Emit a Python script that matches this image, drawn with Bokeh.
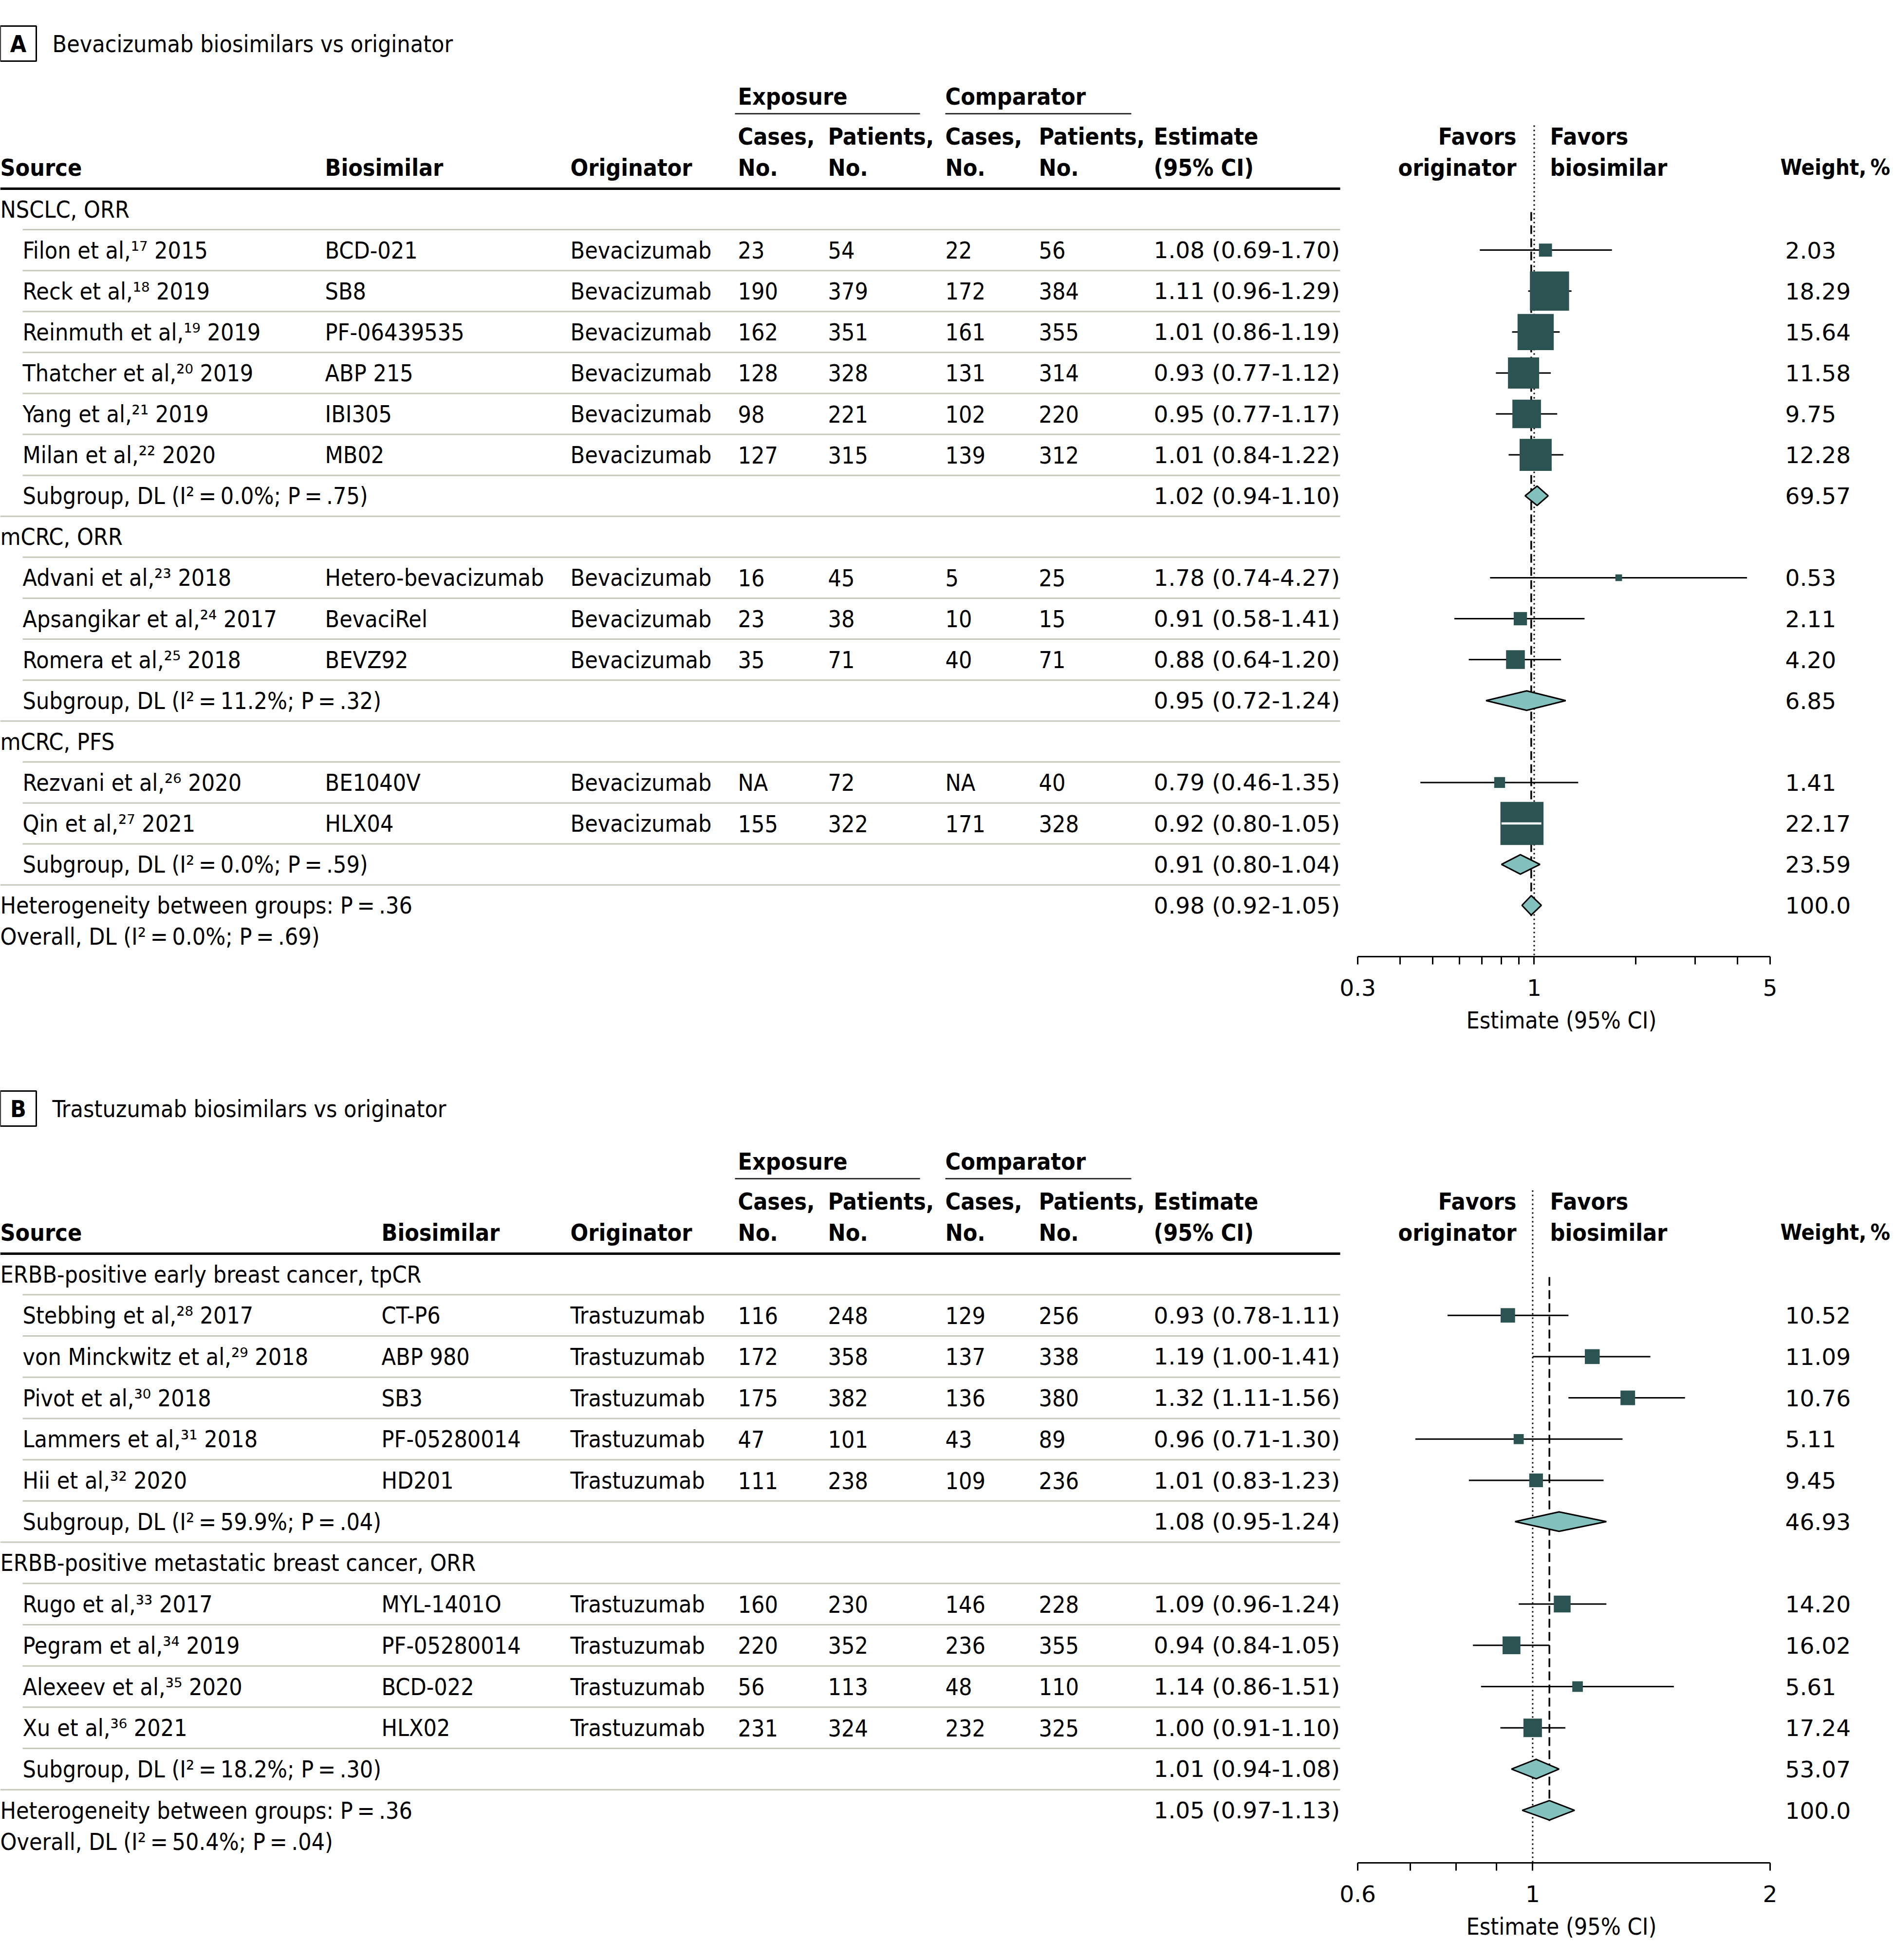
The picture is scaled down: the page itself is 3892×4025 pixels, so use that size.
import math
from bokeh.plotting import figure
from bokeh.models import Range1d, LogScale, LogAxis, FixedTicker, CustomJSTickFormatter, Title
from bokeh.layouts import column
from bokeh.embed import file_html
from bokeh.resources import INLINE
from bokeh.core.properties import value

# ---------------- data: panel A ----------------
A_GROUPS = ["NSCLC, ORR", "mCRC, ORR", "mCRC, PFS"]
A_STUDY_GROUP = [0, 0, 0, 0, 0, 0, 1, 1, 1, 2, 2]
A_SOURCE = ["Filon et al,¹⁷ 2015", "Reck et al,¹⁸ 2019", "Reinmuth et al,¹⁹ 2019",
            "Thatcher et al,²⁰ 2019", "Yang et al,²¹ 2019", "Milan et al,²² 2020",
            "Advani et al,²³ 2018", "Apsangikar et al,²⁴ 2017", "Romera et al,²⁵ 2018",
            "Rezvani et al,²⁶ 2020", "Qin et al,²⁷ 2021"]
A_BIOSIMILAR = ["BCD-021", "SB8", "PF-06439535", "ABP 215", "IBI305", "MB02",
                "Hetero-bevacizumab", "BevaciRel", "BEVZ92", "BE1040V", "HLX04"]
A_ORIGINATOR = ["Bevacizumab"] * 11
A_EXP_CASES = [23, 190, 162, 128, 98, 127, 16, 23, 35, None, 155]
A_EXP_PATIENTS = [54, 379, 351, 328, 221, 315, 45, 38, 71, 72, 322]
A_CMP_CASES = [22, 172, 161, 131, 102, 139, 5, 10, 40, None, 171]
A_CMP_PATIENTS = [56, 384, 355, 314, 220, 312, 25, 15, 71, 40, 328]
A_EST = [1.08, 1.11, 1.01, 0.93, 0.95, 1.01, 1.78, 0.91, 0.88, 0.79, 0.92]
A_LO = [0.69, 0.96, 0.86, 0.77, 0.77, 0.84, 0.74, 0.58, 0.64, 0.46, 0.80]
A_HI = [1.70, 1.29, 1.19, 1.12, 1.17, 1.22, 4.27, 1.41, 1.20, 1.35, 1.05]
A_WEIGHT = [2.03, 18.29, 15.64, 11.58, 9.75, 12.28, 0.53, 2.11, 4.20, 1.41, 22.17]
A_SUB_I2 = ["0.0%", "11.2%", "0.0%"]
A_SUB_P = [".75", ".32", ".59"]
A_SUB_EST = [1.02, 0.95, 0.91]
A_SUB_LO = [0.94, 0.72, 0.80]
A_SUB_HI = [1.10, 1.24, 1.04]
A_SUB_WEIGHT = [69.57, 6.85, 23.59]
A_HET_P = ".36"
A_ALL_I2 = "0.0%"
A_ALL_P = ".69"
A_ALL_CI = [0.98, 0.92, 1.05]
A_ALL_WEIGHT = 100.0
A_TICKS = [0.3, 1, 5]
A_MINOR = [0.4, 0.5, 0.6, 0.7, 0.8, 0.9, 2, 3, 4]

# ---------------- data: panel B ----------------
B_GROUPS = ["ERBB-positive early breast cancer, tpCR", "ERBB-positive metastatic breast cancer, ORR"]
B_STUDY_GROUP = [0, 0, 0, 0, 0, 1, 1, 1, 1]
B_SOURCE = ["Stebbing et al,²⁸ 2017", "von Minckwitz et al,²⁹ 2018", "Pivot et al,³⁰ 2018",
            "Lammers et al,³¹ 2018", "Hii et al,³² 2020", "Rugo et al,³³ 2017",
            "Pegram et al,³⁴ 2019", "Alexeev et al,³⁵ 2020", "Xu et al,³⁶ 2021"]
B_BIOSIMILAR = ["CT-P6", "ABP 980", "SB3", "PF-05280014", "HD201", "MYL-1401O",
                "PF-05280014", "BCD-022", "HLX02"]
B_ORIGINATOR = ["Trastuzumab"] * 9
B_EXP_CASES = [116, 172, 175, 47, 111, 160, 220, 56, 231]
B_EXP_PATIENTS = [248, 358, 382, 101, 238, 230, 352, 113, 324]
B_CMP_CASES = [129, 137, 136, 43, 109, 146, 236, 48, 232]
B_CMP_PATIENTS = [256, 338, 380, 89, 236, 228, 355, 110, 325]
B_EST = [0.93, 1.19, 1.32, 0.96, 1.01, 1.09, 0.94, 1.14, 1.00]
B_LO = [0.78, 1.00, 1.11, 0.71, 0.83, 0.96, 0.84, 0.86, 0.91]
B_HI = [1.11, 1.41, 1.56, 1.30, 1.23, 1.24, 1.05, 1.51, 1.10]
B_WEIGHT = [10.52, 11.09, 10.76, 5.11, 9.45, 14.20, 16.02, 5.61, 17.24]
B_SUB_I2 = ["59.9%", "18.2%"]
B_SUB_P = [".04", ".30"]
B_SUB_EST = [1.08, 1.01]
B_SUB_LO = [0.95, 0.94]
B_SUB_HI = [1.24, 1.08]
B_SUB_WEIGHT = [46.93, 53.07]
B_HET_P = ".36"
B_ALL_I2 = "50.4%"
B_ALL_P = ".04"
B_ALL_CI = [1.05, 0.97, 1.13]
B_ALL_WEIGHT = 100.0
B_TICKS = [0.6, 1, 2]
B_MINOR = [0.7, 0.8, 0.9]

# ---------------- style / layout ----------------
FONT = "DejaVu Sans Condensed"
FONT_NUM = "DejaVu Sans"
FS = "48px"
FS_NUM = "47px"
BOX = "#2b5352"
DIA = "#83c1bf"
SEP = "#c5c9bb"
TOTAL_W = 3892
AX0, AX1 = 2788.0, 3635.0   # axis extent
AXIS_TITLE_LEFT = 3011
COLX = dict(src=0, ind=46, orig=1171, ec=1515, ep=1700, cc=1941, cp=2133, est=2369,
            tab_end=2752, fav_r=3114, fav_l=3183, wt=3666, wt_head=3656)


def fmt_ci(e, l, h):
    return f"{e:.2f} ({l:.2f}-{h:.2f})"


def fmt_w(w):
    return f"{w:.1f}" if w >= 100 else f"{w:.2f}"


def fmt_n(n):
    return "NA" if n is None else str(n)


class Txt:
    def __init__(self):
        self.d = {}

    def add(self, key, x, y, t):
        d = self.d.setdefault(key, dict(x=[], y=[], t=[]))
        d["x"].append(x); d["y"].append(y); d["t"].append(t)

    def draw(self, p):
        for (font, size, style, align), d in self.d.items():
            p.text(x=d["x"], y=d["y"], text=d["t"], text_font=value(font),
                   text_font_size=value(size), text_font_style=style, text_align=align,
                   text_baseline="middle", text_color="black")


def make_panel(letter, title, bio_x, groups, sg, src, bio, orig, ec, ep, cc, cp,
               est, lo, hi, w, sub_i2, sub_p, sub_est, sub_lo, sub_hi, sub_w,
               het_p, all_i2, all_p, all_ci, all_w, ticks, minor, box_k,
               T, pitch, axis_gap, frame_top, bb):
    rows = []
    for g in range(len(groups)):
        rows.append(("group", g))
        for i in range(len(src)):
            if sg[i] == g:
                rows.append(("study", i))
        rows.append(("sub", g))
    rows.append(("het", None))
    row0 = T + 340
    ys = [row0 + k * pitch for k in range(len(rows))]
    het_y = ys[-1]
    axis_y = het_y + axis_gap
    fh = int(round(axis_y - frame_top))

    p = figure(frame_width=TOTAL_W, frame_height=fh,
               x_range=Range1d(0, TOTAL_W), y_range=Range1d(frame_top + fh, frame_top),
               output_backend="svg", toolbar_location=None,
               x_axis_location=None, y_axis_location=None,
               min_border=0, min_border_bottom=bb,
               outline_line_color=None, background_fill_color="white",
               border_fill_color="white")
    p.grid.visible = False

    # log scale for the estimates
    l0 = math.log10(ticks[0])
    ppd = (AX1 - AX0) / (math.log10(ticks[-1]) - l0)
    start = 10 ** (l0 + (0 - AX0) / ppd)
    end = 10 ** (l0 + (TOTAL_W - AX0) / ppd)
    p.extra_x_ranges = {"est": Range1d(start, end)}
    p.extra_x_scales = {"est": LogScale()}

    ax = LogAxis(x_range_name="est",
                 ticker=FixedTicker(ticks=ticks, minor_ticks=minor),
                 bounds=(ticks[0], ticks[-1]),
                 formatter=CustomJSTickFormatter(code="return tick.toString();"))
    ax.axis_line_width = 3
    ax.axis_line_color = "black"
    ax.major_tick_line_width = 3
    ax.minor_tick_line_width = 3
    ax.major_tick_line_color = "black"
    ax.minor_tick_line_color = "black"
    ax.major_tick_out = 16
    ax.major_tick_in = 0
    ax.minor_tick_out = 16
    ax.minor_tick_in = 0
    ax.major_label_text_font = FONT_NUM
    ax.major_label_text_font_size = FS_NUM
    ax.major_label_text_color = "black"
    ax.major_label_standoff = 30
    p.add_layout(ax, "below")
    p.add_layout(Title(text="Estimate (95% CI)", align="left", offset=AXIS_TITLE_LEFT,
                       text_font=FONT, text_font_size=FS, text_font_style="normal",
                       text_color="black", standoff=34), "below")

    tx = Txt()
    N = (FONT, FS, "normal", "left")
    NN = (FONT_NUM, FS_NUM, "normal", "left")
    BL = (FONT, FS, "bold", "left")
    BR = (FONT, FS, "bold", "right")
    BC = (FONT, FS, "bold", "center")

    tx.add(N, 107, T, title)
    tx.add(BC, 37, T, letter)
    tx.add(BL, COLX["ec"], T + 108, "Exposure")
    tx.add(BL, COLX["cc"], T + 108, "Comparator")
    for key, a, b in [("ec", "Cases,", "No."), ("ep", "Patients,", "No."),
                      ("cc", "Cases,", "No."), ("cp", "Patients,", "No."),
                      ("est", "Estimate", "(95% CI)")]:
        tx.add(BL, COLX[key], T + 190, a)
        tx.add(BL, COLX[key], T + 254, b)
    tx.add(BL, COLX["src"], T + 254, "Source")
    tx.add(BL, bio_x, T + 254, "Biosimilar")
    tx.add(BL, COLX["orig"], T + 254, "Originator")
    tx.add(BR, COLX["fav_r"], T + 190, "Favors")
    tx.add(BR, COLX["fav_r"], T + 254, "originator")
    tx.add(BL, COLX["fav_l"], T + 190, "Favors")
    tx.add(BL, COLX["fav_l"], T + 254, "biosimilar")
    tx.add((FONT, "45px", "bold", "left"), COLX["wt_head"], T + 254, "Weight,\u2009%")

    st_y, st_e, st_l, st_h, st_s = [], [], [], [], []
    dm_xs, dm_ys = [], []
    sep_x0, sep_y = [], []
    for k, (kind, idx) in enumerate(rows):
        y = ys[k]
        if k > 0:
            sep_x0.append(COLX["ind"] if kind in ("study", "sub") else 0)
            sep_y.append(y - pitch / 2)
        if kind == "group":
            tx.add(N, COLX["src"], y, groups[idx])
        elif kind == "study":
            i = idx
            tx.add(N, COLX["ind"], y, src[i])
            tx.add(N, bio_x, y, bio[i])
            tx.add(N, COLX["orig"], y, orig[i])
            tx.add(N, COLX["ec"], y, fmt_n(ec[i]))
            tx.add(N, COLX["ep"], y, fmt_n(ep[i]))
            tx.add(N, COLX["cc"], y, fmt_n(cc[i]))
            tx.add(N, COLX["cp"], y, fmt_n(cp[i]))
            tx.add(NN, COLX["est"], y, fmt_ci(est[i], lo[i], hi[i]))
            tx.add(NN, COLX["wt"], y, fmt_w(w[i]))
            st_y.append(y); st_e.append(est[i]); st_l.append(lo[i]); st_h.append(hi[i])
            st_s.append(box_k * math.sqrt(w[i]))
        elif kind == "sub":
            g = idx
            tx.add(N, COLX["ind"], y,
                   f"Subgroup, DL (I\u00b2\u2009=\u2009{sub_i2[g]}; P\u2009=\u2009{sub_p[g]})")
            tx.add(NN, COLX["est"], y, fmt_ci(sub_est[g], sub_lo[g], sub_hi[g]))
            tx.add(NN, COLX["wt"], y, fmt_w(sub_w[g]))
            dm_xs.append([sub_lo[g], sub_est[g], sub_hi[g], sub_est[g]])
            dm_ys.append([y, y - 20, y, y + 20])
        else:
            tx.add(N, COLX["src"], y, f"Heterogeneity between groups: P\u2009=\u2009{het_p}")
            tx.add(N, COLX["src"], y + 64,
                   f"Overall, DL (I\u00b2\u2009=\u2009{all_i2}; P\u2009=\u2009{all_p})")
            tx.add(NN, COLX["est"], y, fmt_ci(*all_ci))
            tx.add(NN, COLX["wt"], y, fmt_w(all_w))
            dm_xs.append([all_ci[1], all_ci[0], all_ci[2], all_ci[0]])
            dm_ys.append([y, y - 20, y, y + 20])

    # table rules
    p.segment(x0=sep_x0, y0=sep_y, x1=[COLX["tab_end"]] * len(sep_y), y1=sep_y,
              line_color=SEP, line_width=3)
    p.segment(x0=[0], y0=[T + 298], x1=[COLX["tab_end"]], y1=[T + 298],
              line_color="black", line_width=5)
    p.segment(x0=[COLX["ec"] - 6, COLX["cc"]], y0=[T + 144, T + 144],
              x1=[1889, 2323], y1=[T + 144, T + 144], line_color="#333333", line_width=3)
    p.rect(x=[37], y=[T], width=[74], height=[72], fill_color=None,
           line_color="black", line_width=3)

    # reference lines
    p.segment(x0=[1], y0=[T + 168], x1=[1], y1=[axis_y], x_range_name="est",
              line_color="black", line_width=3, line_dash="3 6")
    p.segment(x0=[all_ci[0]], y0=[row0 + 6], x1=[all_ci[0]], y1=[het_y + 22],
              x_range_name="est", line_color="black", line_width=3.5, line_dash="18 9")

    # CIs and boxes
    p.segment(x0=st_l, y0=st_y, x1=st_h, y1=st_y, x_range_name="est",
              line_color="black", line_width=3)
    p.scatter(x=st_e, y=st_y, size=st_s, marker="square", x_range_name="est",
              fill_color=BOX, line_color=None)
    inner_l, inner_h, inner_y = [], [], []
    for e, l, h, s, y in zip(st_e, st_l, st_h, st_s, st_y):
        half = (s / 2) / ppd
        if math.log10(l) >= math.log10(e) - half and math.log10(h) <= math.log10(e) + half:
            inner_l.append(l); inner_h.append(h); inner_y.append(y)
    if inner_y:
        p.segment(x0=inner_l, y0=inner_y, x1=inner_h, y1=inner_y, x_range_name="est",
                  line_color="white", line_width=4.5)
    p.patches(xs=dm_xs, ys=dm_ys, x_range_name="est", fill_color=DIA,
              line_color="black", line_width=3)

    tx.draw(p)
    return p, fh


pA, fhA = make_panel("A", "Bevacizumab biosimilars vs originator", 667, A_GROUPS,
                     A_STUDY_GROUP, A_SOURCE, A_BIOSIMILAR, A_ORIGINATOR, A_EXP_CASES,
                     A_EXP_PATIENTS, A_CMP_CASES, A_CMP_PATIENTS, A_EST, A_LO, A_HI,
                     A_WEIGHT, A_SUB_I2, A_SUB_P, A_SUB_EST, A_SUB_LO, A_SUB_HI,
                     A_SUB_WEIGHT, A_HET_P, A_ALL_I2, A_ALL_P, A_ALL_CI, A_ALL_WEIGHT,
                     A_TICKS, A_MINOR, 18.8, T=89, pitch=84.1, axis_gap=105,
                     frame_top=0, bb=215)
b_top = fhA + 215
pB, fhB = make_panel("B", "Trastuzumab biosimilars vs originator", 783, B_GROUPS,
                     B_STUDY_GROUP, B_SOURCE, B_BIOSIMILAR, B_ORIGINATOR, B_EXP_CASES,
                     B_EXP_PATIENTS, B_CMP_CASES, B_CMP_PATIENTS, B_EST, B_LO, B_HI,
                     B_WEIGHT, B_SUB_I2, B_SUB_P, B_SUB_EST, B_SUB_LO, B_SUB_HI,
                     B_SUB_WEIGHT, B_HET_P, B_ALL_I2, B_ALL_P, B_ALL_CI, B_ALL_WEIGHT,
                     B_TICKS, B_MINOR, 9.15, T=2276, pitch=84.7, axis_gap=108,
                     frame_top=b_top, bb=196)

layout = column(pA, pB, spacing=0)
open("out.html", "w").write(file_html(layout, INLINE, "Forest plot"))
